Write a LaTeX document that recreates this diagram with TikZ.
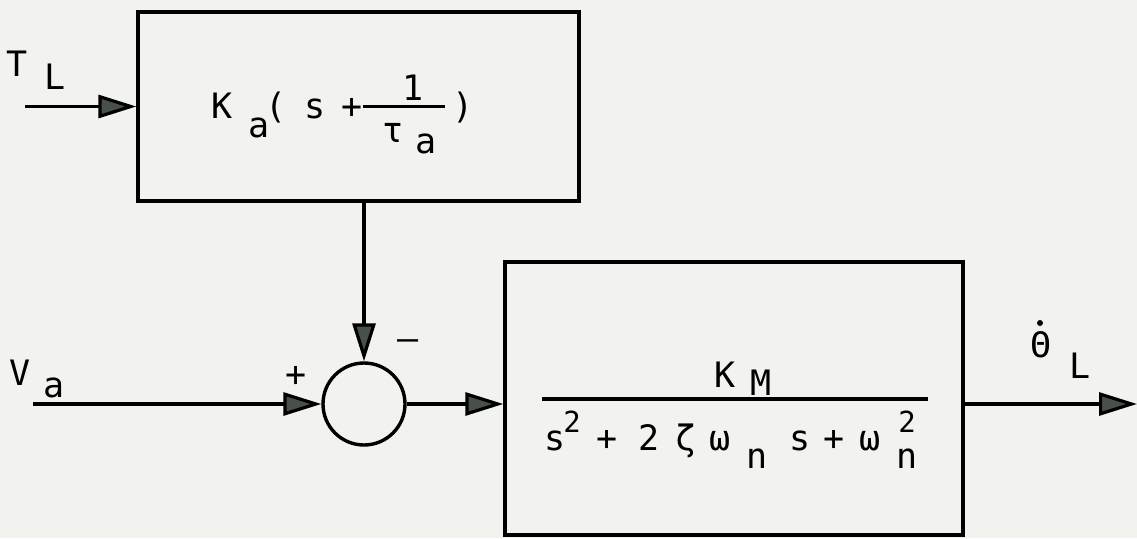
\documentclass[tikz,border=0pt]{standalone}
\usepackage{fontspec}
\newfontfamily\diagfont{DejaVu Sans Mono}
\usetikzlibrary{arrows.meta}
\definecolor{paper}{RGB}{242,243,238}
\definecolor{headgray}{RGB}{72,80,76}
\tikzset{
  txt/.style={anchor=base, inner sep=0pt, font=\diagfont\fontsize{35}{40}\selectfont},
  suptxt/.style={anchor=base, inner sep=0pt, font=\diagfont\fontsize{29}{34}\selectfont},
  blockbox/.style={draw, line width=3.4pt, rectangle, inner sep=0pt},
  sumnode/.style={draw, line width=3.4pt, circle, inner sep=0pt, minimum size=82pt},
  flow/.style={line width=3.2pt, -{Triangle[length=38pt,width=23pt,fill=headgray]}},
  bar/.style={line width=3pt}
}
\begin{document}
\begin{tikzpicture}[x=1pt,y=-1pt]
\fill[paper] (0,0) rectangle (1137,538);
\useasboundingbox (0,0) rectangle (1137,538);

% blocks
\node[blockbox, minimum width=441pt, minimum height=189pt] (ka) at (358.5,106.5) {};
\node[blockbox, minimum width=458pt, minimum height=273pt] (km) at (734,398.5) {};
\node[sumnode] (sum) at (364,404) {};

% free ends
\coordinate (tlin) at (25,106.5);
\coordinate (vain) at (33,404);
\coordinate (out) at (1137,404);

% connectors
\draw[flow] (tlin) -- (ka.west |- tlin);
\draw[flow] (ka.south -| sum) -- (sum.north);
\draw[flow] (vain) -- (sum.west);
\draw[flow] (sum.east) -- (sum.east -| km.west);
\draw[flow] (km.east |- out) -- (out);

% labels outside
\node[txt] (lT) at (17,76) {T};
\node[txt] (lTL) at (55,89) {L};
\node[txt] (lV) at (20,385) {V};
\node[txt] (lVa) at (54,397) {a};
\node[txt] (lplus) at (296,386) {+};
\node[txt] (lminus) at (408,350) {–};
\node[txt] (lth) at (1041,357) {Θ};
\fill (1040,323) circle (3pt);
\node[txt] (lthL) at (1080,378) {L};

% top block formula
\node[txt] (k1) at (222,118) {K};
\node[txt] (k1a) at (259,137) {a};
\node[txt] (p1) at (276,118) {(};
\node[txt] (s1) at (315,118) {s};
\node[txt] (pl1) at (352,118) {+};
\coordinate (fb1l) at (363,106);
\coordinate (fb1r) at (445,106);
\draw[bar] (fb1l) -- (fb1r);
\node[txt] (one) at (413,100) {1};
\node[txt] (tau) at (393,142) {τ};
\node[txt] (taua) at (426,153) {a};
\node[txt] (p2) at (463,118) {)};

% bottom block formula
\node[txt] (k2) at (725,387) {K};
\node[txt] (k2m) at (761,395) {M};
\coordinate (fb2l) at (542,399);
\coordinate (fb2r) at (928,399);
\draw[bar, line width=3.4pt] (fb2l) -- (fb2r);
\node[txt] (s2) at (555,450) {s};
\node[suptxt] (sq1) at (572,432) {2};
\node[txt] (pl2) at (607,450) {+};
\node[txt] (two) at (649,450) {2};
\node[txt] (zeta) at (686,450) {ζ};
\node[txt] (om1) at (720,450) {ω};
\node[txt] (n1) at (757,468) {n};
\node[txt] (s3) at (800,450) {s};
\node[txt] (pl3) at (834,450) {+};
\node[txt] (om2) at (870,450) {ω};
\node[suptxt] (sq2) at (907,432) {2};
\node[txt] (n2) at (907,468) {n};
\end{tikzpicture}
\end{document}
